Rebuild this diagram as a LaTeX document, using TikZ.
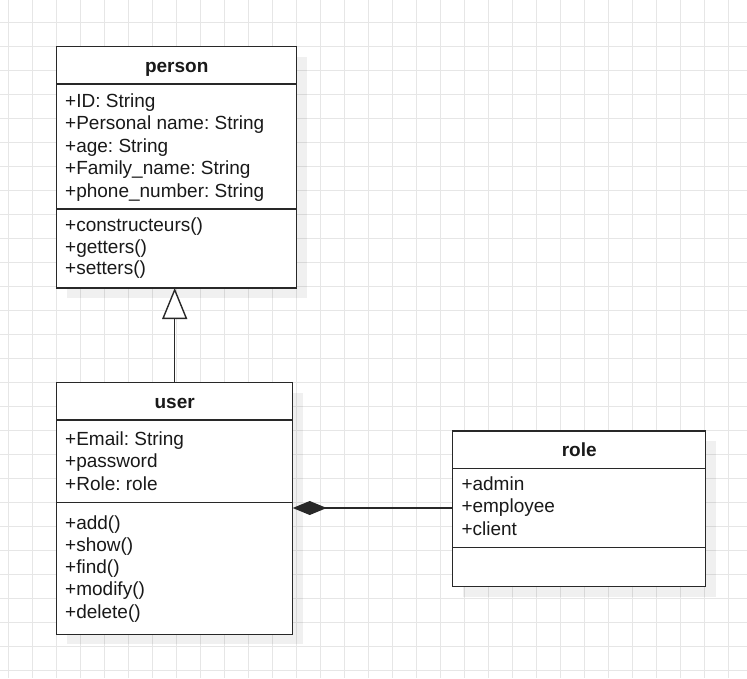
\documentclass[tikz,border=0pt]{standalone}
\usepackage{fontspec}
\setmainfont{Liberation Sans}
\usetikzlibrary{arrows.meta,shadows}
\definecolor{gridc}{RGB}{230,230,230}
\definecolor{linec}{RGB}{40,40,40}
\frenchspacing
\begin{document}
\begin{tikzpicture}[x=1pt,y=-1pt,
  cls/.style={draw=linec, line width=1.4pt, fill=white, inner sep=0pt, outer sep=0pt, anchor=north west},
  part/.style={draw=linec, line width=1.4pt, inner sep=0pt, outer sep=0pt, anchor=north west},
  title/.style={font=\fontsize{19}{22}\selectfont\bfseries, anchor=base, inner sep=0pt, text=black!90},
  member/.style={font=\fontsize{19}{22}\selectfont, anchor=base west, inner sep=0pt, text=black!90},
  shadowed/.style={drop shadow={shadow xshift=10pt, shadow yshift=-10pt, fill=black, opacity=0.06}},
  link/.style={draw=linec, line width=1.4pt},
]
\useasboundingbox (0,0) rectangle (747,678);
\fill[white] (0,0) rectangle (747,678);
% background grid
\foreach \gx in {0,...,30}
  \draw[gridc, line width=1.3pt] ({8.3+24*\gx},0) -- ({8.3+24*\gx},678);
\foreach \gy in {0,...,27}
  \draw[gridc, line width=1.3pt] (0,{22.7+24*\gy}) -- (747,{22.7+24*\gy});

% class: person
\node[cls, shadowed, minimum width=240pt, minimum height=241.3pt] (person) at (56.7,46.7) {};
\node[part, minimum width=240pt, minimum height=37.3pt] (phead) at (56.7,46.7) {};
\node[part, minimum width=240pt, minimum height=125pt] (pattr) at (56.7,84) {};
\node[title] (ptitle) at (176.7,72.7) {person};
\foreach \t [count=\i from 0] in {+ID: String,+Personal name: String,+age: String,+Family\_name: String,+phone\_number: String}
  \node[member] (pa\i) at (65,{107.3+22.5*\i}) {\t};
\foreach \t [count=\i from 0] in {+constructeurs(),+getters(),+setters()}
  \node[member] (pm\i) at (65,{231.7+21.5*\i}) {\t};

% class: user
\node[cls, shadowed, minimum width=236pt, minimum height=251.6pt] (user) at (56.7,382.7) {};
\node[part, minimum width=236pt, minimum height=37.3pt] (uhead) at (56.7,382.7) {};
\node[part, minimum width=236pt, minimum height=82.7pt] (uattr) at (56.7,420) {};
\node[title] (utitle) at (174.7,408.3) {user};
\foreach \t [count=\i from 0] in {+Email: String,+password,+Role: role}
  \node[member] (ua\i) at (65,{445+22.5*\i}) {\t};
\foreach \t [count=\i from 0] in {+add(),+show(),+find(),+modify(),+delete()}
  \node[member] (um\i) at (65,{529+22.3*\i}) {\t};

% class: role
\node[cls, shadowed, minimum width=253pt, minimum height=155.7pt] (role) at (452.7,431) {};
\node[part, minimum width=253pt, minimum height=37.3pt] (rhead) at (452.7,431) {};
\node[part, minimum width=253pt, minimum height=79.4pt] (rattr) at (452.7,468.3) {};
\node[title] (rtitle) at (579.2,456.7) {role};
\foreach \t [count=\i from 0] in {+admin,+employee,+client}
  \node[member] (ra\i) at (461.3,{490.7+22.2*\i}) {\t};

% generalization: user -> person
\draw[link, -{Triangle[open, fill=white, length=31pt, width=25pt]}]
  (uhead.north) -- (uhead.north |- person.south);
% composition: user <>-- role
\draw[link, {Diamond[length=34pt, width=14pt]}-]
  (user.east |- rattr.west) -- (rattr.west);
\end{tikzpicture}
\end{document}
